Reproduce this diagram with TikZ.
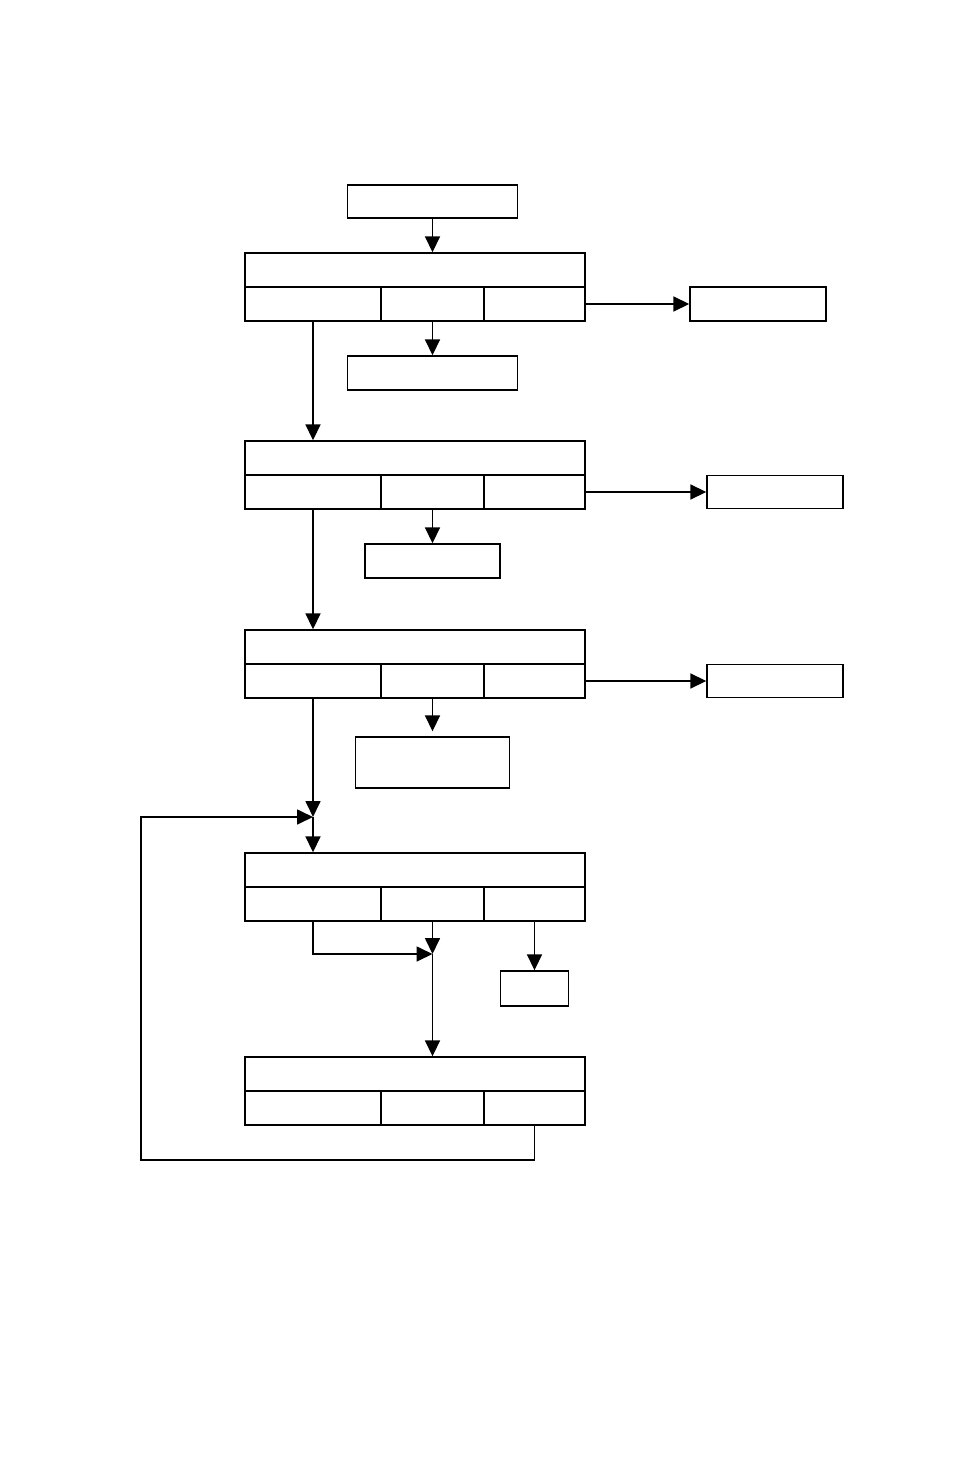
\documentclass[tikz,border=0pt]{standalone}
\usetikzlibrary{arrows.meta}
\begin{document}
\begin{tikzpicture}[x=1pt,y=-1pt,
  bx/.style={draw,line width=1.4pt,rectangle,inner sep=0pt},
  arr/.style={line width=1.7pt,-{Triangle[length=16pt,width=15pt]}}]
\useasboundingbox (0,0) rectangle (954,1474);
\fill[white] (0,0) rectangle (954,1474);
\foreach \n/\y in {1/270,2/458,3/647,4/870,5/1074}{
  \node[bx,minimum width=340pt,minimum height=34pt] (b\n t) at (415,\y) {};
  \node[bx,minimum width=136pt,minimum height=34pt] (b\n l) at (313,\y+34) {};
  \node[bx,minimum width=103pt,minimum height=34pt] (b\n m) at (432.5,\y+34) {};
  \node[bx,minimum width=101pt,minimum height=34pt] (b\n r) at (534.5,\y+34) {};
}
\node[bx,minimum width=170pt,minimum height=33pt] (top) at (432.5,201.5) {};
\node[bx,minimum width=170pt,minimum height=34pt] (m1) at (432.5,373) {};
\node[bx,minimum width=135pt,minimum height=34pt] (m2) at (432.5,561) {};
\node[bx,minimum width=154pt,minimum height=51pt] (m3) at (432.5,762.5) {};
\node[bx,minimum width=136pt,minimum height=34pt] (r1) at (758,304) {};
\node[bx,minimum width=136pt,minimum height=33pt] (r2) at (775,492) {};
\node[bx,minimum width=136pt,minimum height=33pt] (r3) at (775,681) {};
\node[bx,minimum width=68pt,minimum height=35pt] (s4) at (534.5,988.5) {};
\coordinate (j4) at (313,817);
\coordinate (mg) at (432.5,954);
\coordinate (lp) at (141,1160);
% connectors
\draw[arr] (top.south) -- (b1t.north -| top.south);
\draw[arr] (b1m.south) -- (m1.north);
\draw[arr] (b1r.east) -- (r1.west);
\draw[arr] (b1l.south) -- (b2t.north -| b1l.south);
\draw[arr] (b2m.south) -- (m2.north);
\draw[arr] (b2r.east) -- (r2.west);
\draw[arr] (b2l.south) -- (b3t.north -| b2l.south);
\draw[arr] (b3m.south) -- ([yshift=5pt]m3.north);
\draw[arr] (b3r.east) -- (r3.west);
\draw[arr] (b3l.south) -- (j4);
\draw[arr] (j4) -- (b4t.north -| j4);
\draw[arr] (b5r.south) |- (lp) |- (j4);
\draw[arr] (b4l.south) |- (mg);
\draw[arr] (b4m.south) -- (mg);
\draw[arr] (mg) -- (b5t.north -| mg);
\draw[arr] (b4r.south) -- (s4.north);
\end{tikzpicture}
\end{document}
